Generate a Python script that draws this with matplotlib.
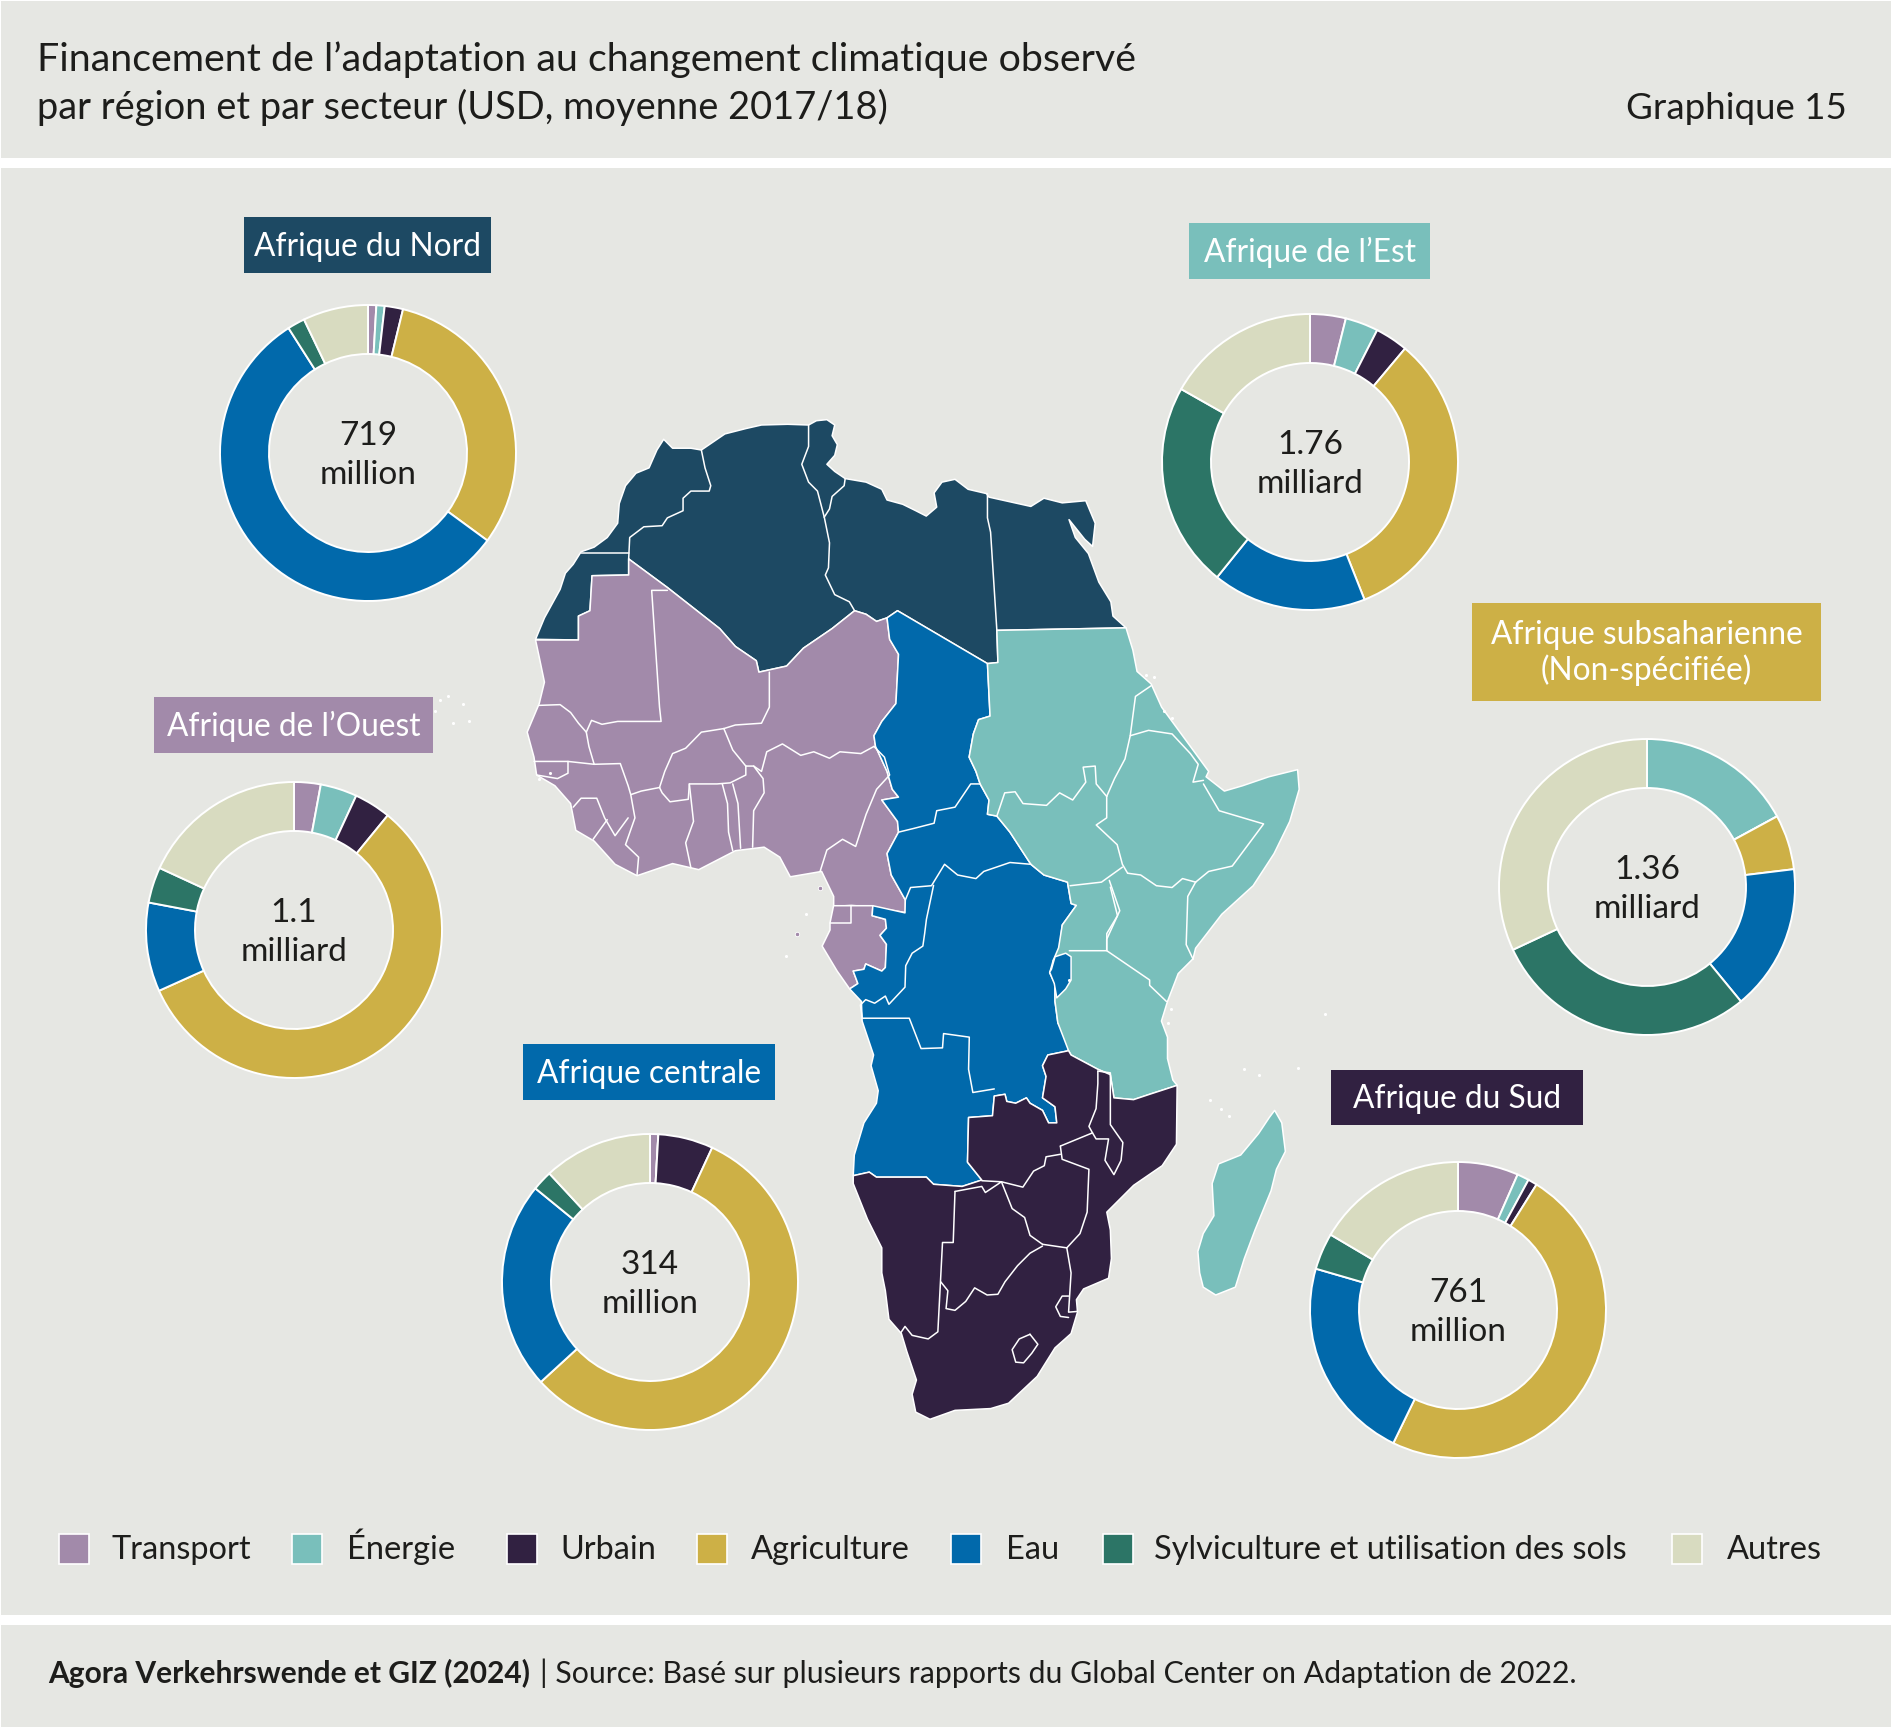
import matplotlib
matplotlib.use("Agg")
import matplotlib.pyplot as plt
from matplotlib.patches import Polygon, Rectangle

W, H = 1891, 1727
BG = "#E6E7E3"
plt.rcParams["font.family"] = ["Lato", "DejaVu Sans"]

SECTORS = ["Transport", "Énergie", "Urbain", "Agriculture", "Eau",
           "Sylviculture et utilisation des sols", "Autres"]
SECTOR_COLORS = ["#A28AAA", "#79BFBB", "#312141", "#CDB046", "#0169AB", "#2C7566", "#D8DBC0"]

# shares per region, % of the total, in SECTORS order
NORD = [0.9, 0.9, 2.0, 31.2, 55.8, 1.9, 7.1]
EST = [3.9, 3.6, 3.6, 32.9, 16.8, 22.4, 16.8]
SUB = [0, 17.1, 0, 6.0, 16.0, 29.0, 32.0]
OUEST = [2.9, 4.0, 4.0, 57.3, 9.7, 3.9, 18.1]
CENTRALE = [0.9, 0, 6.0, 56.3, 22.7, 2.2, 11.9]
SUD = [6.6, 1.3, 1.0, 48.3, 22.3, 4.0, 16.5]

NORTH_1 = [(68,670),(85,610),(100,570),(115,530),(125,485),(140,460),(155,425),(180,412),(205,385),(225,345),
    (228,290),(240,240),(260,205),(285,190),(300,140),(313,110),(330,135),(365,135),(385,140),(405,120),(430,95),
    (470,80),(500,70),(550,68),(590,70),(605,58),(625,55),(640,70),(635,100),(645,125),(640,155),(625,180),
    (640,200),(660,220),(700,230),(730,250),(740,280),(770,292),(795,310),(815,325),(835,300),(830,260),(845,230),
    (870,222),(895,250),(930,262),(935,272),(975,285),(1015,298),(1040,275),(1075,288),(1120,282),(1138,345),
    (1133,410),(1118,390),(1088,335),(1100,385),(1125,430),(1145,510),(1168,565),(1172,605),(1197,638),(950,645),
    (952,735),(932,738),(760,590),(740,610),(720,620),(700,600),(678,590),(635,640),(580,695),(548,745),(495,762),
    (490,730),(450,690),(420,640),(320,525),(246,445),(246,490),(176,492),(172,590),(150,605),(150,672)]
WEST_1 = [(68,672),(150,672),(150,605),(172,590),(176,492),(246,490),(246,445),(320,525),(420,640),(450,690),
    (490,730),(495,762),(548,745),(580,695),(635,640),(678,590),(700,600),(720,620),(740,610),(745,670),(762,712),
    (757,850),(730,900),(715,940),(718,970),(740,1040),(750,1090),(762,1112),(730,1120),(760,1180),(762,1210),
    (740,1270),(748,1330),(775,1400),(775,1435),(712,1420),(672,1415),(638,1418),(638,1390),(615,1320),(555,1335),
    (535,1280),(505,1252),(450,1262),(380,1315),(330,1298),(262,1332),(220,1300),(180,1235),(145,1205),(135,1130),
    (105,1080),(70,1050),(65,1000),(52,930),(75,850),(85,790),(75,720)]
GABON_2 = [(150,72),(260,72),(258,100),(295,110),(298,135),(280,155),(298,180),(295,245),(285,255),(240,235),
    (235,250),(205,255),(218,290),(195,305),(160,255),(118,185),(140,140),(140,120)]
CENTRAL_1 = [(740,610),(760,590),(932,738),(937,885),(915,895),(905,935),(897,1000),(910,1040),(918,1075),(935,1120),
    (932,1160),(950,1165),(975,1210),(995,1255),(1015,1300),(1040,1330),(1085,1350),(1092,1410),(1102,1415),
    (1075,1470),(1068,1560)]
CENTRAL_2 = [(765,225),(755,260),(770,290),(770,340),(778,400),(800,440),(808,478),(750,490),(735,520),(745,550),
    (735,610),(770,635),(775,680),(752,680),(735,645),(700,625),(690,610),(660,625),(635,620),(630,600),(600,605),
    (595,660),(528,665),(525,790),(565,840),(510,858),(430,852),(410,832),(270,832),(250,818),(205,828),(208,770),
    (235,680),(270,625),(275,590),(255,520),(262,490),(230,395),(228,340),(195,305),(218,290),(205,255),(235,250),
    (240,235),(285,255),(295,245),(298,180),(280,155),(298,135),(295,110),(258,100),(260,72),(350,92)]
CENTRAL_3 = [(775,1400),(748,1330),(740,1270),(762,1210),(760,1180),(730,1120),(762,1112),(750,1090),(740,1040),
    (718,970),(715,940),(730,900),(757,850),(762,712),(745,670)]
RWANDA_2 = [(760,250),(770,215),(800,205),(815,215),(815,280),(800,305),(775,330),(768,290),(755,258)]
EAST_1 = [(932,738),(952,735),(950,645),(1197,638),(1210,700),(1218,760),(1245,795),(1265,860),(1290,910),(1330,990),
    (1355,1040),(1350,1055),(1385,1095),(1420,1080),(1470,1055),(1525,1035),(1528,1090),(1510,1180),(1480,1270),
    (1440,1360),(1380,1440),(1330,1535),(1325,1565)]
EAST_2 = [(1157,220),(1115,262),(1085,340),(1068,395),(1085,440),(1085,500),(1100,560),(1112,575),(1035,600),(990,615),
    (935,610),(925,545),(890,530),(815,490),(808,478),(778,400),(770,340),(770,290),(765,225),(780,190)]
EAST_3 = [(1075,1470),(1102,1415),(1092,1410),(1085,1350),(1040,1330),(1015,1300),(995,1255),(975,1210),(950,1165),
    (932,1160),(935,1120),(918,1075),(910,1040),(897,1000),(905,935),(915,895),(937,885)]
MADAGASCAR_2 = [(1385,645),(1405,680),(1415,760),(1390,810),(1375,870),(1330,980),(1300,1060),(1275,1140),(1220,1162),
    (1185,1140),(1175,1100),(1170,1040),(1185,990),(1215,940),(1210,850),(1228,795),(1290,770),(1340,710),(1370,665)]
SOUTH_2 = [(750,490),(808,478),(815,490),(890,530),(925,545),(935,610),(990,615),(1035,600),(1112,575),(1110,740),
    (1070,800),(990,855),(915,930),(925,980),(928,1060),(920,1115),(850,1145),(830,1175),(833,1210),(815,1270),
    (770,1310),(720,1390),(640,1465),(590,1480),(490,1485),(420,1510),(380,1490),(370,1440),(382,1400),(355,1320),
    (340,1270),(305,1230),(295,1150),(285,1100),(285,1030),(245,950),(205,850),(205,828),(250,818),(270,832),
    (410,832),(430,852),(510,858),(565,840),(525,790),(528,665),(595,660),(600,605),(630,600),(635,620),(660,625),
    (690,610),(700,625),(735,645),(752,680),(775,680),(770,635),(735,610),(745,550),(735,520)]

BORDERS_1 = [
    [(155,427),(246,427)],
    [(385,140),(392,190),(403,240),(400,255),(365,255),(350,275),(350,310),(320,330),(310,352),(275,355),(248,385),(246,445)],
    [(590,70),(590,130),(577,180),(590,230),(607,255),(620,328)],
    [(660,220),(658,240),(635,270),(630,305),(620,328)],
    [(620,328),(630,400),(628,470),(622,490),(640,545),(668,565),(678,590)],
    [(932,262),(932,330),(938,370),(950,645)],
    [(320,533),(290,533),(305,860),(308,900),(225,900),(195,908),(175,897),(165,930)],
    [(75,855),(115,853),(135,875),(150,905),(165,930),(170,970),(180,1020)],
    [(65,1012),(130,1012),(180,1020)],
    [(70,1050),(110,1060),(130,1045),(130,1012)],
    [(180,1020),(230,1018),(245,1080),(250,1105),(270,1095),(305,1085)],
    [(305,1085),(315,1040),(330,990),(355,975),(385,930),(428,920)],
    [(515,762),(515,860),(500,905),(450,910),(428,920)],
    [(428,920),(445,980),(470,1025)],
    [(305,1085),(310,1100),(325,1125),(360,1118),(362,1075),(415,1075),(440,1072),(470,1050),(470,1025)],
    [(470,1025),(485,1025),(500,1040),(510,985),(540,963),(575,995),(600,985),(630,1003),(650,985),(690,990),(715,970)],
    [(485,1025),(503,1060),(505,1100),(485,1150),(483,1252)],
    [(445,1075),(455,1130),(460,1255)],
    [(425,1075),(435,1130),(437,1210),(445,1262)],
    [(362,1075),(370,1180),(355,1240),(365,1310)],
    [(250,1105),(258,1170),(240,1245),(265,1280),(262,1330)],
    [(140,1140),(155,1115),(185,1115),(200,1170),(220,1220),(245,1170)],
    [(178,1230),(205,1175)],
    [(715,970),(735,1000),(745,1050),(720,1090),(700,1160),(680,1250),(655,1230),(625,1260),(612,1320)],
    [(1245,800),(1215,830),(1205,940),(1195,1005),(1175,1060),(1160,1110)],
    [(950,1165),(965,1100),(985,1097),(1000,1130),(1045,1135),(1070,1100),(1095,1120),(1120,1070),(1115,1028),(1138,1025),(1140,1075),(1160,1110)],
    [(1160,1110),(1160,1170),(1140,1190),(1180,1245),(1190,1300),(1200,1325)],
    [(1205,940),(1240,925),(1285,935),(1320,990),(1335,1020),(1325,1070),(1345,1065)],
    [(1345,1075),(1375,1150),(1460,1187),(1400,1305),(1355,1320),(1330,1350)],
    [(1200,1325),(1225,1330),(1255,1360),(1285,1365),(1305,1340),(1330,1350)],
    [(1330,1350),(1315,1390),(1312,1525),(1325,1565)],
    [(1090,1360),(1150,1350),(1190,1308)],
    [(1165,1345),(1185,1430),(1160,1510),(1160,1540)],
    [(762,1210),(790,1200),(830,1185),(835,1150),(870,1140),(900,1075),(918,1075)],
    [(775,1400),(785,1365),(825,1360),(850,1300),(875,1330),(910,1340),(925,1320),(975,1295),(1015,1300)],
]
BORDERS_2 = [
    [(200,72),(200,120),(140,120)],
    [(810,198),(915,198),(1035,280),(1035,295),(1082,340)],
    [(915,198),(915,150),(945,100),(925,20)],
    [(430,15),(410,110),(405,150),(400,185),(370,205),(352,240),(350,300),(305,348),(295,325),(265,345),(240,335),(225,350),(230,385)],
    [(230,387),(362,387),(395,472),(455,470),(458,430),(530,440),(528,530),(540,595),(600,585)],
    [(490,872),(485,1015),(455,1015),(442,1265),(415,1285),(370,1275),(350,1250),(338,1268)],
    [(490,872),(565,858),(575,875),(620,845),(565,842)],
    [(620,845),(650,920),(685,945),(700,995),(735,1020)],
    [(735,1025),(700,1045),(665,1080),(630,1125),(610,1160),(580,1162),(545,1142),(520,1180),(490,1205),(465,1200),(470,1150),(450,1125)],
    [(620,845),(680,860),(710,815),(740,800),(745,775),(785,768)],
    [(785,745),(875,708),(865,690),(885,640),(890,570),(890,535)],
    [(785,745),(790,782),(865,810),(860,930),(840,990),(803,1030),(735,1020)],
    [(803,1030),(815,1100),(808,1210),(833,1208)],
    [(808,1165),(790,1165),(772,1195),(785,1222),(808,1225)],
    [(890,535),(925,540),(925,685),(960,735),(955,785),(935,825),(910,785),(920,725),(885,725),(875,708)],
    [(700,1272),(722,1300),(705,1325),(682,1352),(660,1350),(650,1315),(670,1285),(700,1272)],
]
# tiny islands, only white specks at this size
SPECKS_1 = [(-115,840),(-100,830),(-70,850),(-60,900),(-90,905),(-125,870),(1235,770),(1250,775),(1270,870),(1285,890),
    (75,1060),(95,1045),(1088,1625)]
SPECKS_2 = [(1205,615),(1235,640),(1258,662),(1300,528),(1340,545),(1450,525),(1085,400),(1095,360),(1525,375),(72,95),(18,212)]
ISLANDS_2 = [(48,150),(112,22)]


def crop1(points):
    return [(500 + x / 1.912, 400 + y / 2.8) for x, y in points]


def crop2(points):
    return [(780 + x / 2.8, 880 + y / 2.8) for x, y in points]


def flip(points):
    return [(x, H - y) for x, y in points]


def box(ax, x0, y0, x1, y1, color, **kw):
    ax.add_patch(Rectangle((x0, H - y1), x1 - x0, y1 - y0, facecolor=color, edgecolor="none", **kw))


def label(ax, x, y, text, **kw):
    # y is the text baseline in picture pixels
    kw.setdefault("color", "#1d1d1b")
    return ax.text(x, H - y, text, va="baseline", **kw)


fig = plt.figure(figsize=(W / 100, H / 100), dpi=100, facecolor="white")
ax = fig.add_axes([0, 0, 1, 1])

# panels
box(ax, 1, 1, W, 158, BG)
box(ax, 1, 168, W, 1615, BG)
box(ax, 1, 1625, W, H, BG)

# map
regions = [
    (crop1(NORTH_1), "#1D4963"),
    (crop1(WEST_1), SECTOR_COLORS[0]),
    (crop2(GABON_2), SECTOR_COLORS[0]),
    (crop1(CENTRAL_1) + crop2(CENTRAL_2) + crop1(CENTRAL_3), SECTOR_COLORS[4]),
    (crop1(EAST_1) + crop2(EAST_2) + crop1(EAST_3), SECTOR_COLORS[1]),
    (crop2(MADAGASCAR_2), SECTOR_COLORS[1]),
    (crop2(RWANDA_2), SECTOR_COLORS[4]),
    (crop2(SOUTH_2), SECTOR_COLORS[2]),
]
for outline, color in regions:
    ax.add_patch(Polygon(flip(outline), closed=True, facecolor=color, edgecolor="white", linewidth=1.1, joinstyle="round"))
for line in [crop1(b) for b in BORDERS_1] + [crop2(b) for b in BORDERS_2]:
    xs, ys = zip(*flip(line))
    ax.plot(xs, ys, color="white", linewidth=1.1, solid_joinstyle="round", solid_capstyle="round")
xs, ys = zip(*flip(crop1(SPECKS_1) + crop2(SPECKS_2)))
ax.scatter(xs, ys, s=5, color="white", linewidths=0)
xs, ys = zip(*flip(crop2(ISLANDS_2)))
ax.scatter(xs, ys, s=10, color=SECTOR_COLORS[0], edgecolors="white", linewidths=0.6)

# donuts
donuts = [
    (NORD, 368, 453, "719", "million"),
    (EST, 1310, 462, "1.76", "milliard"),
    (SUB, 1647, 887, "1.36", "milliard"),
    (OUEST, 294, 930, "1.1", "milliard"),
    (CENTRALE, 650, 1282, "314", "million"),
    (SUD, 1458, 1310, "761", "million"),
]
R_OUT, R_IN = 148, 99
for values, cx, cy, amount, unit in donuts:
    ax.pie(values, colors=SECTOR_COLORS, center=(cx, H - cy), radius=R_OUT, startangle=90, counterclock=False,
           frame=True, wedgeprops=dict(width=R_OUT - R_IN, edgecolor="white", linewidth=1.4))
    label(ax, cx, cy - 8, amount, ha="center", fontsize=24)
    label(ax, cx, cy + 31, unit, ha="center", fontsize=24)

# region tags
tags = [
    (244, 217, 491, 273, "#1D4963", ["Afrique du Nord"], [256]),
    (1189, 223, 1430, 279, SECTOR_COLORS[1], ["Afrique de l’Est"], [262]),
    (1472, 603, 1821, 701, SECTOR_COLORS[3], ["Afrique subsaharienne", "(Non-spécifiée)"], [644, 680]),
    (154, 697, 433, 753, SECTOR_COLORS[0], ["Afrique de l’Ouest"], [736]),
    (523, 1044, 775, 1100, SECTOR_COLORS[4], ["Afrique centrale"], [1083]),
    (1331, 1070, 1583, 1125, SECTOR_COLORS[2], ["Afrique du Sud"], [1108]),
]
for x0, y0, x1, y1, color, lines, baselines in tags:
    box(ax, x0, y0, x1, y1, color)
    for text, base in zip(lines, baselines):
        label(ax, (x0 + x1) / 2, base, text, color="white", ha="center", fontsize=22.8)

# legend
legend_x = [59, 292, 507, 697, 951, 1103, 1672]
text_x = [112, 347, 560, 751, 1006, 1154, 1727]
for name, color, sx, tx in zip(SECTORS, SECTOR_COLORS, legend_x, text_x):
    ax.add_patch(Rectangle((sx, H - 1564), 30, 30, facecolor=color, edgecolor="white", linewidth=1.2))
    label(ax, tx, 1559, name, fontsize=23.4)

# header and footer
label(ax, 37, 71, "Financement de l’adaptation au changement climatique observé", fontsize=28.4)
label(ax, 37, 119, "par région et par secteur (USD, moyenne 2017/18)", fontsize=27.4)
label(ax, 1847, 119, "Graphique 15", ha="right", fontsize=26.4)
label(ax, 48, 1683, "Agora Verkehrswende et GIZ (2024)", fontsize=21.5, fontweight="bold")
label(ax, 540, 1683, "| Source: Basé sur plusieurs rapports du Global Center on Adaptation de 2022.", fontsize=21.8)

ax.set_xlim(0, W)
ax.set_ylim(0, H)
ax.set_aspect("equal")
ax.axis("off")
fig.savefig("out.png", dpi=100, facecolor="white")
